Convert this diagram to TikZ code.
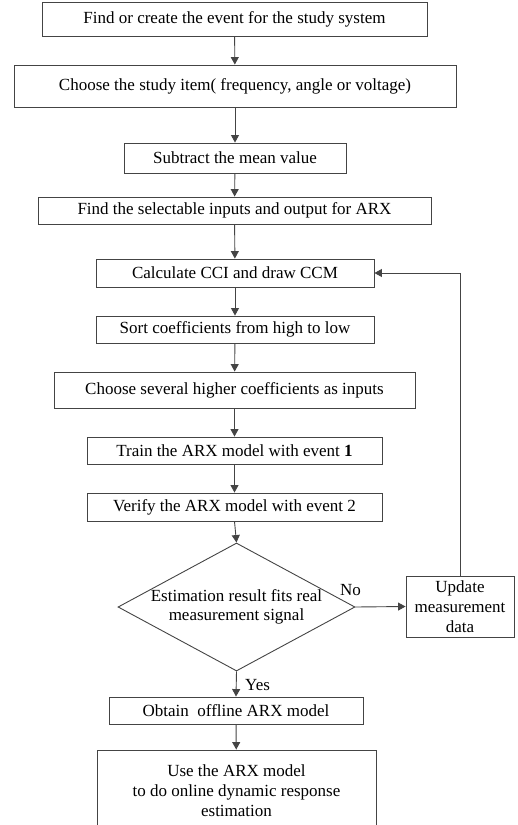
\documentclass[tikz,border=0pt]{standalone}
\usepackage{fontspec}
\setmainfont{Liberation Serif}
\usetikzlibrary{arrows.meta,shapes.geometric}
\definecolor{linec}{HTML}{444444}
\tikzset{
  box/.style={draw=linec,line width=0.9pt,inner sep=0pt,align=center,font=\fontsize{17}{20}\selectfont},
  dia/.style={draw=linec,line width=0.9pt,diamond,inner sep=0pt,align=center,font=\fontsize{17}{20}\selectfont},
  arr/.style={draw=linec,line width=0.9pt,-{Triangle[length=7.5pt,width=8pt]}},
  lbl/.style={font=\fontsize{17}{20}\selectfont,inner sep=0pt}
}
\begin{document}
\begin{tikzpicture}[x=1pt,y=-1pt]
\useasboundingbox (0,0) rectangle (518,825);
\node[box,minimum width=385pt,minimum height=34pt] (b1) at (234.5,19) {Find or create the event for the study system};
\node[box,minimum width=442pt,minimum height=42pt] (b2) at (235,86) {Choose the study item( frequency, angle or voltage)};
\node[box,minimum width=222pt,minimum height=30pt] (b3) at (235,158) {Subtract the mean value};
\node[box,minimum width=393pt,minimum height=27pt] (b4) at (234.5,210.5) {Find the selectable inputs and output for ARX};
\node[box,minimum width=278pt,minimum height=28pt] (b5) at (235,273) {Calculate CCI and draw CCM};
\node[box,minimum width=278pt,minimum height=27pt] (b6) at (235,329.5) {Sort coefficients from high to low};
\node[box,minimum width=361pt,minimum height=36pt] (b7) at (234.5,390) {Choose several higher coefficients as inputs};
\node[box,minimum width=295pt,minimum height=27pt] (b8) at (234.5,450.5) {Train the ARX model with event \textbf{1}};
\node[box,minimum width=295pt,minimum height=28pt] (b9) at (234.5,507) {Verify the ARX model with event 2};
\node[dia,minimum width=237pt,minimum height=128pt,aspect=1.85] (d) at (236.5,607) {};
\node[lbl,align=center,font=\fontsize{17}{19}\selectfont] at (236.5,607) {Estimation result fits real\\measurement signal};
\node[box,minimum width=108pt,minimum height=61pt] (up) at (460,606.5) {Update\\measurement\\data};
\node[box,minimum width=254pt,minimum height=27pt] (ob) at (236,710.5) {Obtain\ \ offline ARX model};
\node[box,minimum width=279pt,minimum height=82pt] (use) at (236.5,791) {Use the ARX model\\to do online dynamic response\\estimation};
\draw[arr] (b1) -- (b2);
\draw[arr] (b2) -- (b3);
\draw[arr] (b3) -- (b4);
\draw[arr] (b4) -- (b5);
\draw[arr] (b5) -- (b6);
\draw[arr] (b6) -- (b7);
\draw[arr] (b7) -- (b8);
\draw[arr] (b8) -- (b9);
\draw[arr] (b9.south) -- (d.north);
\draw[arr] (d.east) -- (up.west);
\draw[arr] (d.south) -- (ob.north);
\draw[arr] (ob) -- (use);
\draw[arr] (up.north) |- (b5.east);
\node[lbl,anchor=west] at (340,590) {No};
\node[lbl,anchor=west] at (245,685) {Yes};
\end{tikzpicture}
\end{document}
